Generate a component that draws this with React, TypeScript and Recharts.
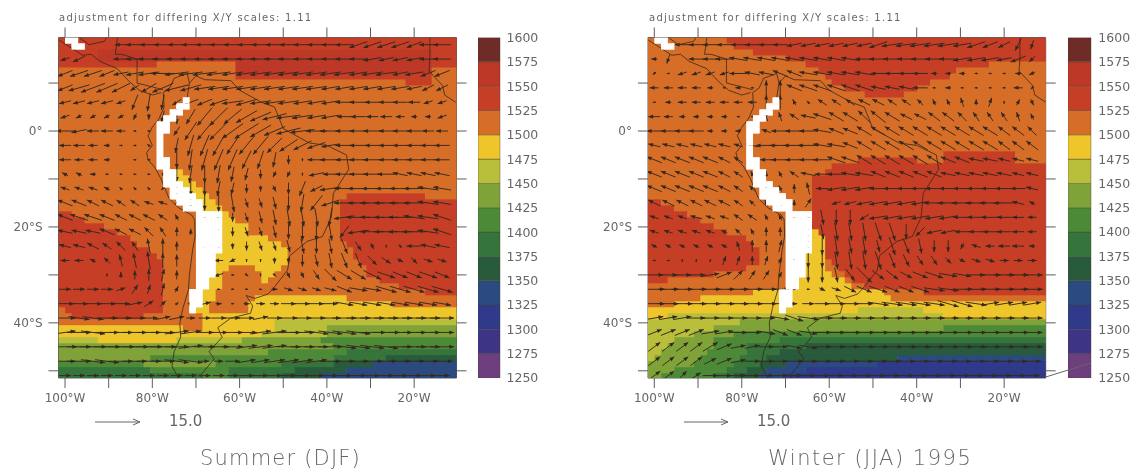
import React from "react";
import { ScatterChart, Scatter, XAxis, YAxis, BarChart, Bar } from "recharts";

const bandColors: Record<string, string> = {
  a: "#6d3f7e", b: "#3d3486", c: "#2f3a8a", d: "#2a4a80", e: "#285a3c", f: "#35743a", g: "#4c8a38",
  h: "#7fa338", i: "#b9bf3a", j: "#eec62c", k: "#d66e28", l: "#c53e25", m: "#bd3826", n: "#6e2b28", W: "#ffffff",
};
const bandOrder = ["a", "b", "c", "d", "e", "f", "g", "h", "i", "j", "k", "l", "m", "n"];
const legendTicks = [1250, 1275, 1300, 1325, 1350, 1375, 1400, 1425, 1450, 1475, 1500, 1525, 1550, 1575, 1600];
const lonTicks = [-100, -90, -80, -70, -60, -50, -40, -30, -20];
const latTicks = [10, 0, -10, -20, -30, -40, -50];

// high terrain (blank cells): [row, first column, last column]
const terrain: number[][] = [
  [0, 1, 2], [1, 2, 3], [10, 19, 19], [11, 18, 19], [12, 17, 18], [13, 16, 17], [14, 15, 16], [15, 15, 16],
  [16, 15, 15], [17, 15, 15], [18, 15, 15], [19, 15, 15], [20, 15, 16], [21, 15, 16], [22, 16, 17], [23, 16, 17],
  [24, 16, 18], [25, 17, 19], [26, 17, 20], [27, 18, 21], [28, 19, 21], [29, 21, 24], [30, 21, 24], [31, 21, 24],
  [32, 21, 24], [33, 21, 24], [34, 21, 24], [35, 21, 24], [36, 21, 23], [37, 21, 23], [38, 21, 23], [39, 21, 23],
  [40, 21, 22], [41, 21, 22], [42, 20, 21], [43, 20, 21], [44, 20, 21], [45, 20, 20],
];

// geopotential height bands, row by row: band letter + column where the run ends
const summerRows = [
  "l61", "l61", "l6 m57 l61", "l6 m57 l61", "l15 k27 m57 l61", "k27 m57 k61", "k27 l57 k61", "k53 l57 k61",
  "k61", "k61", "k61", "k61", "k61", "k61", "k61", "k61", "k61", "k61", "k61", "k61", "k61", "k61",
  "k18 j19 k61", "k18 j20 k61", "k19 j21 k61", "k20 j22 k61", "k21 j23 k44 l56 k61", "k22 j24 k43 l61",
  "k22 j25 k43 l61", "l2 k25 j26 k43 l61", "l4 k25 j27 k43 l61", "l7 k25 j29 k43 l61", "l9 k25 j29 k43 l61",
  "l11 k25 j32 k43 l61", "l12 k25 j34 k44 l61", "l14 k25 j35 k45 l61", "l15 k24 j35 k45 l61", "l16 k24 j35 k46 l61",
  "l16 k24 j26 k30 j34 k47 l61", "l16 k24 j25 k31 j33 k47 l61", "l16 k23 j25 k31 j32 k49 l61", "l16 k23 j25 k52 l61",
  "l16 k22 j24 k56 l61", "l16 k22 j24 k30 j44 k61", "l16 k22 j23 k29 j51 k61", "k1 l16 k21 j23 k29 j61",
  "k2 l13 k22 j61", "k22 j33 i61", "j19 k22 j33 i41 h61", "j31 i41 h61", "i6 j18 i28 h40 g61", "h42 g61",
  "h32 g44 f61", "h14 g42 f50 e61", "g13 h24 g34 f42 e48 d61", "f14 g26 f36 e44 d61", "f22 g26 f34 e40 d61",
];
const winterRows = [
  "k12 l61", "k13 l61", "k16 l61", "k21 l61", "k24 l52 k61", "k26 l47 k61", "k27 l46 k61", "k28 l43 k61",
  "k30 l41 k61", "k33 l39 k61", "k61", "k61", "k61", "k61", "k61", "k61", "k61", "k61", "k61", "k45 l56 k61",
  "k32 l41 k45 l56 k61", "k28 l61", "k27 l61", "k25 l61", "k25 l61", "k25 l61", "k25 l61", "l2 k25 l61",
  "l4 k25 l61", "l6 k25 l61", "l8 k25 l61", "l10 k25 l61", "l12 k25 j26 l61", "l15 k25 j27 l61", "l16 k25 j27 l61",
  "l17 k25 j27 l61", "l17 k24 j27 l61", "l17 k24 j27 k28 l61", "l15 k24 j27 k29 l61", "l10 k23 j28 k30 l61",
  "l3 k23 j30 k31 l61", "k23 j31 k33 l61", "k16 j36 k42 l61", "k8 j37 k61", "k4 j61", "j32 i42 j61", "j3 i45 j61",
  "i14 h61", "i10 h45 g61", "i7 h13 g61", "i4 h10 g20 f61", "i3 h10 g15 f24 e61", "i2 h9 g15 f20 e61",
  "i1 h8 g14 f18 e38 d61", "h7 g13 f17 e21 d35 c61", "h4 g12 f15 e18 d24 c61", "h2 g10 f13 e17 d21 c61",
];

// wind components in m/s, 24 rows (18N to 51S), 28 columns
const summerU = [
  "0 0 0 0 -4 -6 -6 -6 -6 -6 -6 -6 -6 -6 -6 -6 -6 -6 -6 -6 -6 -6 -6 -6 -6 -5 -6 -6",
  "-3 -4 0 0 -5 -6 -7 -7 -7 -7 -7 -7 -7 -7 -7 -7 -7 -6 -6 -6 -6 -6 -6 -5 -5 -5 -6 -6",
  "-5 -6 -6 -5 -5 -6 -7 -8 -8 -8 -8 -8 -7 -7 -7 -7 -7 -7 -7 -7 -7 -6 -7 -7 -5 -6 -5 -5",
  "-5 -7 -8 -7 -6 -3 -5 -7 -8 -7 -7 -7 -7 -7 -7 -7 -7 -7 -7 -6 -6 -6 -6 -6 -6 -5 -4 -4",
  "-4 -4 -4 -4 -3 -2 -1 -1 -3 -5 -5 -6 -7 -7 -7 -7 -7 -6 -6 -6 -6 -6 -5 -5 -5 -4 -3 -3",
  "-3 -2 -2 -2 -2 -1 0 -1 0 -3 -5 -6 -6 -7 -7 -8 -8 -7 -6 -6 -5 -5 -4 -4 -3 -2 -2 -3",
  "-6 -5 -4 -4 -3 -1 -1 -1 -2 -4 -5 -6 -7 -8 -7 -7 -8 -8 -7 -7 -6 -6 -6 -5 -5 -5 -4 -4",
  "-4 -4 -3 -2 -1 -1 -1 0 -1 -2 -3 -4 -4 -5 -5 -5 -6 -6 -6 -6 -6 -6 -5 -5 -5 -5 -5 -5",
  "-4 -3 -3 -2 0 -1 -1 0 0 -1 -2 -3 -3 -3 -2 -1 0 0 -6 -7 -6 -6 -6 -5 -5 -5 -5 -5",
  "-2 -2 -2 -1 1 1 1 0 0 -1 0 -1 -1 -1 0 -1 -1 0 -5 -5 -6 -6 -6 -6 -5 -5 -5 -5",
  "-3 -3 -3 -2 -1 -1 -1 -1 0 0 0 -1 -1 0 0 1 0 -2 -4 -7 -7 -7 -7 -7 -7 -7 -7 -6",
  "-5 -5 -4 -4 -3 -3 -3 -3 -1 0 0 0 1 1 1 1 0 -1 -4 -6 -7 -7 -8 -8 -7 -7 -7 -6",
  "-5 -6 -6 -5 -4 -4 -4 -3 -1 0 0 -1 0 1 1 1 1 1 1 -1 -7 -8 -8 -8 -8 -7 -7 -6",
  "-5 -5 -5 -5 -4 -4 -3 -2 0 0 0 0 0 1 1 1 0 0 0 1 -3 -7 -8 -8 -8 -8 -7 -6",
  "-4 -4 -4 -3 -3 -2 -1 0 0 0 0 0 0 0 1 1 1 1 0 1 2 2 1 0 -1 -5 -5 -5",
  "-3 -3 -2 -2 -1 -1 -1 0 0 0 0 -3 -2 0 0 0 0 0 1 1 2 2 3 3 2 2 3 3",
  "0 0 0 0 0 0 0 1 0 0 0 -3 -1 1 0 1 1 1 2 4 5 5 6 6 5 5 6 5",
  "4 4 4 4 3 2 1 1 1 0 0 1 1 1 1 2 3 3 3 4 5 6 6 7 7 7 7 7",
  "6 6 6 6 6 5 3 2 1 2 4 2 1 2 3 3 5 5 5 5 6 6 6 6 6 6 6 6",
  "7 7 7 7 7 7 6 5 5 3 4 5 5 5 5 5 6 6 6 7 8 8 8 8 8 8 8 8",
  "7 8 8 8 8 8 8 8 8 7 6 6 7 7 7 8 8 8 8 8 8 8 9 9 8 8 8 8",
  "8 8 9 9 9 9 9 9 8 8 7 7 7 7 8 8 8 8 8 8 8 8 8 8 8 8 8 8",
  "7 8 8 8 8 8 8 8 8 8 3 3 5 6 6 7 7 7 7 7 7 7 7 7 7 7 7 7",
  "4 4 4 4 4 4 4 4 4 4 4 4 4 5 5 5 5 5 5 5 5 5 5 5 5 5 5 5",
];
const summerV = [
  "0 0 0 0 0 0 0 0 0 0 0 0 0 0 0 0 0 0 0 0 0 -2 -2 -2 -2 -2 0 0",
  "-1 -2 0 0 0 0 0 0 0 0 0 0 0 0 0 0 0 0 0 0 0 0 -1 -1 -1 -1 0 0",
  "-2 -2 -2 -2 -1 -1 -1 0 -1 -1 -1 -1 -1 -1 -1 -1 -1 -1 -1 -1 -1 -1 -1 -1 -1 -1 -2 -2",
  "-2 -2 -3 -3 -3 -2 -3 -3 -2 -2 -1 -1 -1 -1 -1 -1 -1 -1 -1 -1 -1 -1 -1 -1 -1 -1 -2 -2",
  "-1 -1 -1 -1 -1 -5 -6 -5 -2 -2 -2 -2 -1 -2 -1 -1 -1 -1 -1 -1 0 0 0 0 0 0 -1 -1",
  "-1 -1 -1 -1 -1 -2 -2 -4 -5 -5 -6 -6 -5 -4 -3 -2 -1 -1 -1 -1 0 0 0 0 0 0 0 -1",
  "0 -1 0 0 0 0 0 0 -3 -6 -6 -6 -5 -5 -4 -3 -2 -1 0 0 0 0 0 0 0 0 0 0",
  "0 0 0 0 0 0 1 0 -5 -7 -7 -7 -6 -6 -6 -5 -4 -3 -2 -1 0 0 0 0 0 0 0 0",
  "0 0 0 0 0 0 0 -1 -6 -7 -7 -7 -7 -6 -6 -5 -3 -1 0 0 0 0 0 0 0 0 0 0",
  "1 1 0 0 0 0 0 -1 -5 -6 -6 -6 -5 -4 -3 -2 -2 -1 -1 0 0 0 0 0 1 1 1 1",
  "1 1 1 1 1 1 1 -1 -4 -5 -5 -5 -4 -3 -2 -2 -4 -5 -2 -1 0 0 0 0 0 0 1 1",
  "2 2 2 2 2 2 1 1 -1 -4 -5 -6 -6 -3 -3 -4 -5 -6 -5 -2 0 0 0 0 0 0 1 1",
  "2 2 2 2 2 2 2 2 2 0 -2 -3 -3 -3 -4 -5 -6 -6 -6 -6 -1 0 0 0 0 1 1 2",
  "1 1 1 2 2 2 3 3 3 2 -1 -2 -3 -3 -3 -4 -5 -6 -6 -6 -4 -1 0 0 0 0 1 2",
  "1 1 2 2 3 3 5 5 3 0 -1 -2 -2 -3 -3 -3 -4 -5 -5 -5 -5 -3 -2 1 1 0 1 1",
  "0 0 1 2 4 5 6 5 4 0 0 0 -1 -1 -1 -2 -2 -4 -4 -5 -5 -5 -3 -2 -1 -2 -1 -1",
  "0 0 0 1 2 3 4 4 3 0 0 -1 0 -1 -1 -1 -2 -2 -3 -4 -3 -3 -3 -2 -2 -2 -2 -2",
  "0 0 0 0 1 3 3 4 2 0 0 0 0 0 0 0 -1 -1 -1 -1 -2 -1 -1 -2 -2 -2 -2 -2",
  "0 0 0 0 0 1 2 2 1 0 1 0 0 0 0 0 0 0 0 0 -1 -1 -1 -1 -1 -1 -1 -1",
  "0 -1 -1 0 0 0 0 1 1 0 0 0 0 0 1 0 0 0 0 0 0 0 0 0 0 0 0 0",
  "1 0 -1 0 0 0 0 0 1 1 0 0 0 0 1 1 0 0 -1 -1 -1 -1 0 0 0 0 0 0",
  "0 0 0 0 0 0 0 0 0 1 0 0 0 1 1 1 0 0 0 0 -1 -1 -1 -1 0 0 0 0",
  "0 0 -1 -1 0 0 0 0 -1 -1 0 0 0 1 1 1 1 1 1 0 0 0 0 0 0 0 0 0",
  "0 0 0 0 0 0 0 0 0 0 0 0 0 0 0 0 0 0 0 0 0 0 0 0 0 0 0 0",
];
const winterU = [
  "0 -1 -5 -5 -5 -5 -5 -5 -5 -5 -5 -5 -5 -5 -5 -5 -6 -7 -7 -7 -7 -7 -6 -6 -5 -4 -2 -1",
  "-2 -1 0 -5 -5 -6 -6 -6 -6 -6 -6 -6 -6 -6 -6 -6 -6 -6 -6 -6 -6 -6 -6 -6 -6 -5 -5 -2",
  "-1 -1 -3 -3 -3 -3 -6 -5 -5 -5 -5 -6 -6 -6 -6 -6 -5 -5 -5 -5 -2 -2 -2 -1 -1 -1 -2 -2",
  "-3 -3 -3 -3 -2 -1 -2 -1 0 0 -5 -6 -6 -6 -6 -6 -5 -5 -5 -5 -1 -2 -1 -1 -1 -1 -3 -1",
  "-1 -2 -3 -3 -3 -3 -3 -3 0 0 -1 -1 -3 -3 -3 -4 -4 -3 -3 -2 -1 -1 -1 0 1 0 1 1",
  "-4 -3 -2 -2 -2 -2 -1 -1 -1 -1 -3 -5 -6 -5 -5 -4 -5 -5 -4 -4 -4 -4 -3 -2 -2 -2 -1 -1",
  "-5 -5 -5 -5 -2 -2 -2 -1 -3 -6 -6 -6 -6 -5 -5 -5 -5 -5 -5 -5 -5 -5 -5 -5 -5 -4 -4 -3",
  "-4 -4 -4 -4 -4 -4 -3 -4 -7 -7 -7 -7 -6 -6 -5 -5 -5 -5 -5 -5 -5 -5 -5 -5 -5 -4 -4 -4",
  "-5 -5 -5 -5 -5 -4 -3 -3 -4 -6 -6 -6 -6 -6 -6 -5 -5 -5 -5 -5 -5 -5 -5 -5 -5 -4 -4 -4",
  "-5 -5 -5 -5 -5 -4 -3 -1 0 -1 -3 -5 -5 -6 -6 -6 -5 -5 -5 -5 -5 -5 -5 -5 -5 -5 -4 -4",
  "-5 -5 -5 -5 -5 -4 -3 -2 -1 -1 0 -1 -4 -6 -6 -6 -6 -6 -6 -6 -6 -6 -6 -6 -6 -6 -5 -4",
  "-4 -4 -4 -4 -4 -4 -3 -2 -1 -1 0 2 0 -3 -4 -5 -6 -6 -6 -6 -7 -7 -7 -7 -7 -7 -4 -2",
  "-3 -3 -3 -4 -3 -3 -3 -3 -1 -1 0 1 1 0 0 -3 -6 -6 -6 -6 -6 -6 -6 -6 -6 -5 -4 -3",
  "-3 -3 -3 -3 -3 -2 -2 -1 0 0 0 0 1 1 1 1 2 2 0 -3 -5 -5 -5 -5 -5 -5 -4 -3",
  "-2 -2 -2 -2 -2 -2 -1 0 0 1 0 0 0 1 1 1 1 2 2 1 0 0 -1 -3 -3 -4 -4 -2",
  "-1 -1 0 0 0 1 1 0 1 1 -1 0 0 1 1 1 2 2 2 2 2 2 2 3 3 3 3 3",
  "6 6 6 6 6 5 3 2 2 1 0 0 0 1 3 5 4 4 4 5 6 6 6 6 7 7 7 7",
  "7 7 7 7 7 7 7 7 7 6 1 1 2 3 4 5 6 5 5 6 7 7 7 7 7 7 7 7",
  "7 7 7 7 7 7 7 7 7 5 2 4 5 6 6 6 7 7 7 7 7 7 7 7 6 6 6 6",
  "6 6 6 6 6 6 6 6 6 6 6 7 7 7 7 7 7 7 7 7 7 7 7 7 7 7 7 7",
  "5 5 5 5 6 6 6 6 6 5 5 6 6 6 7 7 7 7 7 7 7 7 7 7 7 7 7 7",
  "4 4 4 4 5 5 5 5 5 5 5 6 6 6 6 7 7 7 7 7 7 7 7 7 7 7 7 7",
  "4 4 4 4 4 5 5 5 5 5 6 6 6 6 6 6 6 6 6 6 6 6 6 6 6 6 6 6",
  "4 4 3 3 5 5 5 5 5 5 5 5 5 5 5 5 5 5 5 5 5 5 5 5 5 5 5 5",
];
const winterV = [
  "0 0 0 0 0 0 0 0 0 0 -1 -1 -1 -1 -1 -1 -2 -1 -1 -1 -1 -1 -1 -2 -2 -2 -4 -3",
  "0 -3 0 0 0 0 1 1 1 1 1 1 1 1 1 0 0 0 0 0 0 0 -1 -1 -1 -1 -2 -2",
  "-1 0 -1 -1 -1 -1 0 1 1 2 2 1 1 1 1 1 0 0 0 0 0 0 0 0 0 0 0 -1",
  "0 0 0 0 0 0 0 0 5 5 2 2 2 2 2 2 1 1 1 0 0 0 0 0 0 0 0 -1",
  "0 0 0 0 0 0 0 0 5 5 2 1 2 2 2 2 2 2 2 2 2 2 3 2 3 1 2 -2",
  "0 0 0 0 0 0 0 0 3 3 2 1 2 3 3 4 4 3 2 2 3 3 3 3 3 3 3 2",
  "0 0 0 0 0 0 0 0 1 0 0 0 1 2 2 3 3 3 3 3 3 3 3 3 3 3 3 3",
  "1 1 1 1 1 1 1 1 0 0 0 0 1 1 2 3 3 3 3 3 3 3 3 3 3 3 3 3",
  "2 2 2 2 2 2 2 1 0 0 0 0 0 2 2 3 3 3 3 3 3 2 2 1 1 1 1 1",
  "2 2 2 2 2 2 2 2 2 2 2 1 0 0 1 1 2 2 2 2 2 1 1 1 1 1 1 1",
  "2 2 2 2 2 2 2 2 2 2 3 4 0 -1 -1 -1 0 0 0 0 0 0 0 0 0 0 0 1",
  "2 2 2 2 2 2 2 2 2 2 2 3 0 -1 -1 -1 -1 -1 -1 -1 0 0 0 0 0 0 1 1",
  "1 1 1 1 1 1 2 2 2 2 2 -3 -5 -5 -5 -2 -1 -1 -1 -1 -1 -1 0 0 0 0 0 0",
  "1 1 1 1 1 1 2 2 3 3 0 -3 -5 -6 -6 -6 -6 -6 -5 -3 -1 -1 0 0 0 0 0 0",
  "1 1 1 1 1 1 3 4 4 4 1 -5 -6 -7 -5 -6 -4 -6 -5 -5 -4 -4 -2 1 0 0 0 0",
  "0 0 1 1 1 3 3 3 3 2 2 -5 -5 -6 -6 -6 -6 -5 -4 -3 -3 -2 -1 -1 -1 0 0 0",
  "0 0 0 0 1 2 3 3 3 2 1 -5 -5 -5 -4 -5 -3 -3 -2 -2 -2 -1 -1 0 0 0 0 0",
  "0 0 0 0 0 0 0 0 0 0 0 0 -1 -1 -2 -2 -2 -2 -2 -2 -1 -1 0 0 0 0 0 0",
  "0 0 0 0 0 0 0 0 0 0 0 0 0 0 0 0 -1 -1 -1 -1 -1 -2 -2 -1 1 1 1 1",
  "1 1 1 0 0 0 0 0 0 -1 -2 -1 0 0 0 0 0 0 0 0 0 0 0 0 0 0 0 0",
  "2 2 2 2 1 1 0 0 -1 -2 -2 -1 0 0 0 0 0 0 0 0 0 0 0 0 0 0 0 0",
  "3 3 3 3 3 2 1 1 0 0 -1 -1 0 0 0 0 0 0 0 0 0 0 0 0 0 0 0 0",
  "3 3 3 3 2 2 1 0 0 0 0 0 0 0 0 0 0 0 0 0 0 0 0 0 0 0 0 0",
  "3 3 3 2 0 0 0 0 0 0 0 0 0 0 0 0 0 0 0 0 0 0 0 0 0 0 0 0",
];

// coastlines as lon/lat pairs
const borders: number[][][] = [
  [[-77.5, 8], [-77.3, 5], [-78.5, 2.5], [-80, 0.8], [-81, -1], [-80, -3], [-81.3, -4.5], [-81, -6], [-79.5, -7.5], [-78, -10], [-76.2, -14], [-74, -16], [-71, -17.5], [-70.3, -18.5], [-70.2, -22], [-70.8, -25], [-71.5, -30], [-71.7, -33], [-73, -37], [-73.7, -40], [-73.5, -43], [-75, -46], [-75.5, -49], [-74, -51.5]],
  [[-77.5, 8], [-76, 9], [-75, 11], [-72, 12], [-71.5, 10], [-70, 11.5], [-68, 10.7], [-62, 10.5], [-60, 8.5], [-55, 6], [-52, 5], [-50, 0.5], [-44, -2.5], [-40, -3], [-35.5, -5], [-35, -8], [-38.5, -13], [-39, -18], [-41, -22], [-44.5, -23], [-48.5, -26], [-49, -29], [-52, -32.5], [-53.5, -34], [-56.5, -34.9], [-58.5, -34.3], [-57, -36.5], [-57.5, -38], [-62, -39], [-65, -41], [-64, -43], [-67, -46], [-65.8, -47.5], [-69, -51], [-68.5, -51.5]],
  [[-101.4, 19], [-96, 15.8], [-94, 16], [-92, 14.5], [-88, 13], [-85.5, 10.5], [-83, 8.5], [-80, 7.5], [-78, 8]],
  [[-77.5, 8.6], [-80, 9.2], [-83.5, 10], [-83.5, 15], [-87, 16], [-88.5, 16], [-88, 19.4]],
  [[-90.5, 19.4], [-91, 18.7], [-94.5, 18], [-96, 19], [-96.6, 19.4]],
  [[-16.4, 19.4], [-16.4, 15], [-16.6, 12.5], [-13.5, 9.5], [-13, 7.5], [-10.5, 6]],
  [[-72, 7], [-71.5, 10]],
];

const latTop = 19.5;
const latBottom = -51.5;
const cellLon = 1.5;
const cellLat = 1.25;
const arrowPx = 3;
const inkColor = "#35281e";
const axisColor = "#5c5c5c";
const textColor = "#666666";
const fontFamily = "'DejaVu Sans', sans-serif";

function buildCells(rows: string[], lonStart: number) {
  const out: { x: number; y: number; c: string; span: number }[] = [];
  rows.forEach((row, j) => {
    const grid: string[] = [];
    let at = 0;
    row.split(" ").forEach((run) => {
      const end = parseInt(run.slice(1), 10);
      while (at < end) grid[at++] = run[0];
    });
    terrain.filter((t) => t[0] === j).forEach((t) => {
      for (let i = t[1]; i <= t[2]; i++) grid[i] = "W";
    });
    let start = 0;
    for (let i = 1; i <= grid.length; i++) {
      if (i === grid.length || grid[i] !== grid[start]) {
        const span = i - start;
        out.push({ x: lonStart + (start + span / 2) * cellLon, y: latTop - (j + 0.5) * cellLat, c: grid[start], span });
        start = i;
      }
    }
  });
  return out;
}

function buildArrows(uRows: string[], vRows: string[]) {
  const out: { x: number; y: number; u: number; v: number }[] = [];
  uRows.forEach((row, j) => {
    const us = row.split(" ").map(Number);
    const vs = vRows[j].split(" ").map(Number);
    us.forEach((u, i) => {
      const v = vs[i] || 0;
      if (u !== 0 || v !== 0) out.push({ x: -100 + 3.2 * i, y: 18 - 3 * j, u, v });
    });
  });
  return out;
}

function ArrowMark(props: any) {
  const { cx, cy, payload } = props;
  if (cx == null || cy == null) return <g />;
  const dx = payload.u * arrowPx;
  const dy = -payload.v * arrowPx;
  const len = Math.hypot(dx, dy);
  const ux = dx / len;
  const uy = dy / len;
  const tx = cx + dx / 2;
  const ty = cy + dy / 2;
  const h = Math.min(4.8, len * 0.8);
  const w = h * 0.42;
  const bx = tx - ux * h;
  const by = ty - uy * h;
  return (
    <g>
      <line x1={cx - dx / 2} y1={cy - dy / 2} x2={tx} y2={ty} stroke={inkColor} strokeWidth={0.95} />
      <polygon points={`${tx},${ty} ${bx - uy * w},${by + ux * w} ${bx + uy * w},${by - ux * w}`} fill={inkColor} />
    </g>
  );
}

const noDot = () => <g />;

function MapPanel({ left, rows, uRows, vRows, lonMin, lonMax, plotRight, plotLeft }: any) {
  const chartW = 520;
  const pxLon = (plotRight - plotLeft) / (lonMax - lonMin);
  const pxLat = 340.5 / (latTop - latBottom);
  const cellW = cellLon * pxLon;
  const cellH = cellLat * pxLat;
  const CellMark = (props: any) => {
    const { cx, cy, payload } = props;
    const w = cellW * payload.span;
    return <rect x={cx - w / 2} y={cy - cellH / 2} width={w + 0.4} height={cellH + 1} fill={bandColors[payload.c]} />;
  };
  const WhiteMark = (props: any) => {
    const { cx, cy, payload } = props;
    const w = cellW * payload.span;
    return <rect x={cx - w / 2} y={cy - cellH / 2} width={w} height={cellH} fill={bandColors.W} />;
  };
  const cells = buildCells(rows, lonMin);
  const blanks = cells.filter((c) => c.c === "W");
  const arrows = buildArrows(uRows, vRows);
  const axisProps = { stroke: axisColor, tick: { fill: textColor, fontSize: 12, fontFamily }, tickSize: 10, interval: 0 as const, allowDataOverflow: true };
  return (
    <div style={{ position: "absolute", left, top: 0 }}>
      <ScatterChart width={chartW} height={474} margin={{ top: 0, left: 0, right: chartW - (plotRight - left) - 30, bottom: 56 }}>
        <XAxis {...axisProps} xAxisId={0} type="number" dataKey="x" domain={[lonMin, lonMax]} ticks={lonTicks} height={40} tickMargin={5}
          tickFormatter={(t: number) => (t % 20 === 0 ? `${-t}°W` : "")} />
        <XAxis {...axisProps} xAxisId="top" orientation="top" type="number" dataKey="x" domain={[lonMin, lonMax]} ticks={lonTicks} height={37.5}
          tickFormatter={() => ""} />
        <YAxis {...axisProps} yAxisId={0} type="number" dataKey="y" domain={[latBottom, latTop]} ticks={latTicks} width={plotLeft - left} tickMargin={6}
          tickFormatter={(t: number) => (t === 0 ? "0°" : t % 20 === 0 ? `${-t}°S` : "")} />
        <YAxis {...axisProps} yAxisId="right" orientation="right" type="number" dataKey="y" domain={[latBottom, latTop]} ticks={latTicks} width={30}
          tickFormatter={() => ""} />
        <Scatter data={cells} shape={CellMark} isAnimationActive={false} />
        {borders.map((b, i) => (
          <Scatter key={i} data={b.map((p) => ({ x: p[0], y: p[1] }))} line={{ stroke: inkColor, strokeWidth: 0.8 }} lineType="joint" shape={noDot} isAnimationActive={false} />
        ))}
        <Scatter data={arrows} shape={ArrowMark} isAnimationActive={false} />
        <Scatter data={blanks} shape={WhiteMark} isAnimationActive={false} />
      </ScatterChart>
    </div>
  );
}

function ColorBar({ left, plotW }: { left: number; plotW: number }) {
  const row: Record<string, number | string> = { name: "height", base: 1250 };
  bandOrder.forEach((b) => { row[b] = 25; });
  return (
    <div style={{ position: "absolute", left, top: 0 }}>
      <BarChart width={plotW + 50} height={474} data={[row]} margin={{ top: 37.5, left: 0, right: 0, bottom: 96 }} barCategoryGap={0}>
        <XAxis dataKey="name" hide />
        <YAxis orientation="right" domain={[1250, 1600]} ticks={legendTicks} allowDataOverflow interval={0} width={50} axisLine={false} tickLine={false}
          tickSize={0} tickMargin={7} tick={{ fill: textColor, fontSize: 12.5, fontFamily }} />
        <Bar dataKey="base" stackId="s" fill="none" isAnimationActive={false} />
        {bandOrder.map((b) => (
          <Bar key={b} dataKey={b} stackId="s" fill={bandColors[b]} stroke="#4a4030" strokeWidth={0.4} isAnimationActive={false} />
        ))}
      </BarChart>
    </div>
  );
}

const label = (text: string, x: number, y: number, size: number, extra: React.CSSProperties = {}) => (
  <div style={{ position: "absolute", left: x, top: y, fontSize: size, lineHeight: 1, color: textColor, fontFamily, whiteSpace: "pre", ...extra }}>{text}</div>
);

export default function App() {
  return (
    <div style={{ position: "absolute", left: 0, top: 0, width: 1135, height: 474, background: "#fff", overflow: "hidden", filter: "blur(0.45px)" }}>
      <MapPanel left={0} plotLeft={58.5} plotRight={456.5} lonMin={-101.5} lonMax={-10.3} rows={summerRows} uRows={summerU} vRows={summerV} />
      <MapPanel left={590} plotLeft={648} plotRight={1045.7} lonMin={-101.44} lonMax={-10.5} rows={winterRows} uRows={winterU} vRows={winterV} />
      <ColorBar left={477.5} plotW={21.5} />
      <ColorBar left={1067.7} plotW={23.3} />
      {label("adjustment for differing X/Y scales: 1.11", 59, 13, 10, { letterSpacing: 1.27 })}
      {label("adjustment for differing X/Y scales: 1.11", 649, 13, 10, { letterSpacing: 1.25 })}
      {label("15.0", 169, 414, 15)}
      {label("15.0", 757, 414, 15)}
      {label("Summer (DJF)", 200, 448, 21, { letterSpacing: 1.2, fontWeight: 200 })}
      {label("Winter (JJA) 1995", 768, 448, 21, { letterSpacing: 1.5, fontWeight: 200 })}
      <svg width={1135} height={474} style={{ position: "absolute", left: 0, top: 0, pointerEvents: "none" }}>
        <g stroke="#666" strokeWidth={1} fill="none">
          <path d="M95 422H140M133 419L140 422L133 425" />
          <path d="M684 422H728M721 419L728 422L721 425" />
          <path d="M1045.7 377L1091 363" />
        </g>
      </svg>
    </div>
  );
}
